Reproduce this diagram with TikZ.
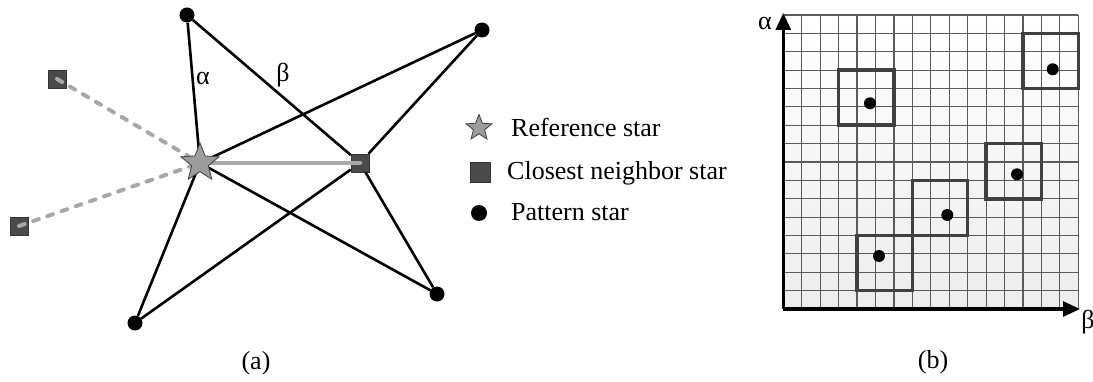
\documentclass[tikz,border=0pt]{standalone}
\usepackage{fontspec}
\setmainfont{Liberation Serif}
\usetikzlibrary{shapes.geometric,arrows.meta}
\definecolor{sqgray}{HTML}{4A4A4A}
\definecolor{stargray}{HTML}{9C9C9C}
\definecolor{linegray}{HTML}{A8A8A8}
\definecolor{boxgray}{HTML}{404040}
\definecolor{gridcol}{HTML}{5A5A5A}
\begin{document}
\begin{tikzpicture}[x=1pt,y=-1pt,
  dot/.style={circle,fill=black,inner sep=0pt,minimum size=15pt},
  nsq/.style={rectangle,fill=sqgray,draw=sqgray!70!black,line width=0.6pt,inner sep=0pt,minimum size=18pt},
  refstar/.style={star,star points=5,star point ratio=2.3,fill=stargray,draw=black!75,line width=0.8pt,inner sep=0pt,minimum size=40pt},
  edge/.style={line width=2.6pt,black},
  nearline/.style={line width=4.5pt,linegray,line cap=round},
  farline/.style={line width=4pt,linegray,line cap=round,dash pattern=on 6pt off 9pt},
  lbl/.style={font=\fontsize{26}{30}\selectfont,inner sep=0pt},
  gridl/.style={line width=1.2pt,gridcol},
  winbox/.style={line width=3.6pt,boxgray},
  gdot/.style={circle,fill=black,inner sep=0pt,minimum size=12pt},
  axis/.style={line width=3pt,black,-{Triangle[length=17pt,width=15pt]}}
]
\useasboundingbox (0,0) rectangle (1093,382);
% ---------- panel (a) ----------
\coordinate (rsc) at (200,163);
\node[dot] (p1) at (187,15) {};
\node[dot] (p2) at (482,30) {};
\node[dot] (p3) at (437,294) {};
\node[dot] (p4) at (135,323) {};
\node[nsq] (cn) at (360,163) {};
\node[nsq] (n1) at (57,79) {};
\node[nsq] (n2) at (19,226) {};
\draw[edge] (p1) -- (rsc);
\draw[edge] (p1) -- (cn);
\draw[edge] (cn) -- (p3);
\draw[edge] (rsc) -- (p2);
\draw[edge] (cn) -- (p2);
\draw[edge] (rsc) -- (p3);
\draw[edge] (rsc) -- (p4);
\draw[edge] (cn) -- (p4);
\draw[nearline] (rsc) -- (cn.center);
\draw[farline] (n1.center) -- (rsc);
\draw[farline] (n2.center) -- (rsc);
\node[refstar] (rs) at (rsc) {};
\node[lbl] (la) at (203,78) {α};
\node[lbl] (lb) at (283,75) {β};
\node[lbl] (capa) at (256,363) {(a)};
% legend
\node[refstar,minimum size=27pt] (ls) at (479,128) {};
\node[nsq,minimum size=20pt] (lsq) at (480,172) {};
\node[dot,minimum size=16pt] (ld) at (479,213) {};
\node[lbl,anchor=base west] (t1) at (511,137) {Reference star};
\node[lbl,anchor=base west] (t2) at (507,180) {Closest neighbor star};
\node[lbl,anchor=base west] (t3) at (511,221) {Pattern star};
% ---------- panel (b) ----------
\fill[top color=white,bottom color=gray!14] (783.3,15) rectangle (1078.3,309);
\begin{scope}[shift={(783.3,15)},x=18.4375pt,y=-18.375pt]
  \foreach \i in {0,...,16} {
    \draw[gridl] (\i,0) -- (\i,16);
    \draw[gridl] (0,\i) -- (16,\i);
  }
  \draw[winbox] (3,3) rectangle (6,6);
  \draw[winbox] (13,1) rectangle (16,4);
  \draw[winbox] (11,7) rectangle (14,10);
  \draw[winbox] (7,9) rectangle (10,12);
  \draw[winbox] (4,12) rectangle (7,15);
\end{scope}
\node[gdot] (g1) at (870,103.3) {};
\node[gdot] (g2) at (1052.7,69.3) {};
\node[gdot] (g3) at (1017,174.3) {};
\node[gdot] (g4) at (947.3,215) {};
\node[gdot] (g5) at (879,256) {};
\coordinate (o) at (783.3,309);
\coordinate (ya) at (783.3,13);
\coordinate (xa) at (1080,309);
\draw[axis] (o) -- (ya);
\draw[axis] (o) -- (xa);
\node[lbl] (aa) at (765,23) {α};
\node[lbl] (ab) at (1088,322) {β};
\node[lbl] (capb) at (933,362) {(b)};
\end{tikzpicture}
\end{document}
